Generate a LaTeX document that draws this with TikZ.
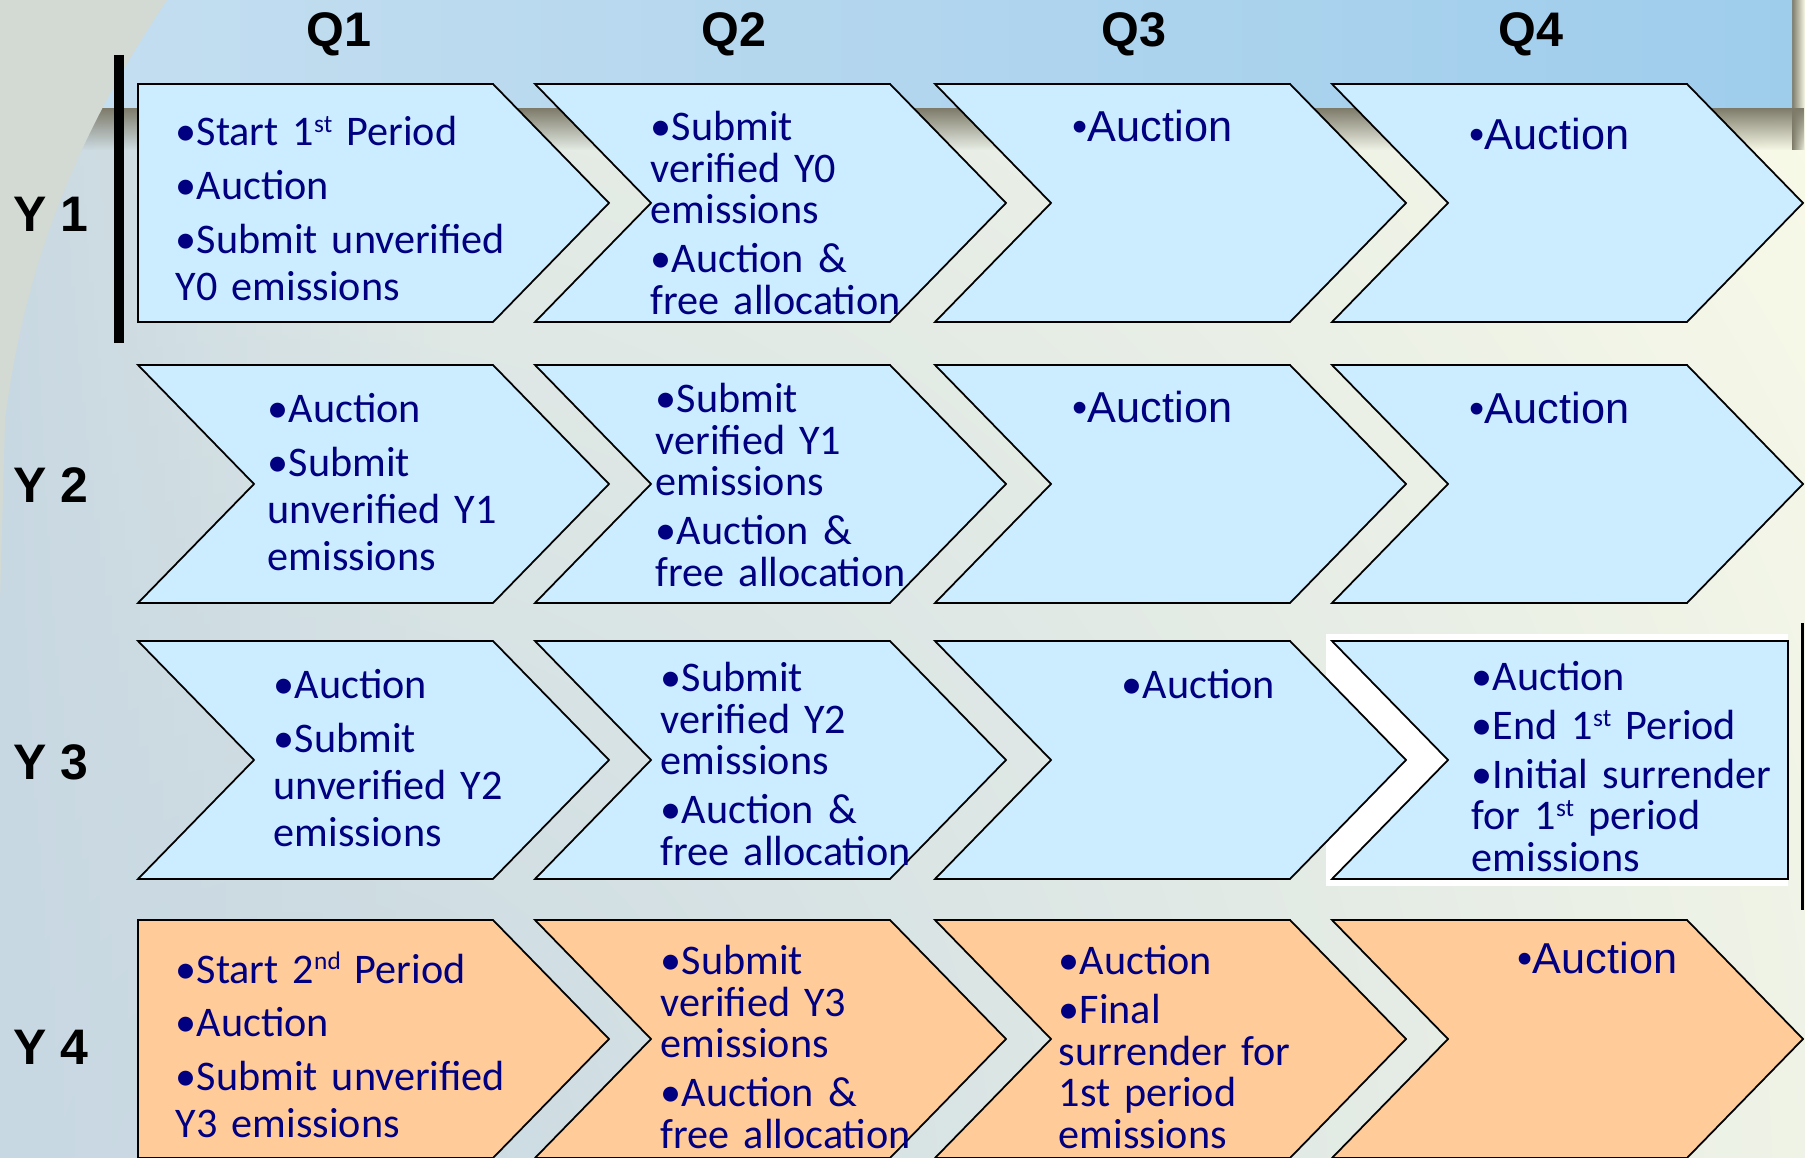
\documentclass[tikz,border=0pt]{standalone}
\usepackage{fontspec}
\setmainfont{Carlito}
\newfontfamily\arialfont{Liberation Sans}
\usepackage{tikz}
\usetikzlibrary{fadings}

\definecolor{boxblue}{RGB}{204,236,255}
\definecolor{boxorange}{RGB}{255,204,153}
\definecolor{navytext}{RGB}{0,0,128}
\definecolor{cream}{RGB}{252,252,232}
\definecolor{globe}{RGB}{200,216,226}
\definecolor{edgegray}{RGB}{210,218,211}
\definecolor{bandleft}{RGB}{196,222,240}
\definecolor{bandmid}{RGB}{222,238,249}
\definecolor{bandright}{RGB}{158,205,236}
\definecolor{bandshadow}{RGB}{125,122,105}

\newcommand{\sups}[1]{\raisebox{0.65ex}{\fontsize{7.2}{8}\selectfont #1}}

\tikzset{
    box/.style={draw=black, line width=0.5pt, line join=miter},
    itemsloose/.style={anchor=base west, inner sep=0pt, text width=3.4cm, align=left, text=navytext, font=\fontsize{12}{13.4}\selectfont},
    itemstight/.style={itemsloose, font=\fontsize{12}{11.8}\selectfont},
    itemsingle/.style={anchor=base west, inner sep=0pt, text=navytext, font=\fontsize{12}{13.4}\selectfont},
    arialitem/.style={anchor=base west, inner sep=0pt, text=navytext, font=\arialfont\fontsize{12.3}{15}\selectfont},
    quarter/.style={anchor=base, inner sep=0pt, font=\arialfont\bfseries\fontsize{13.8}{16}\selectfont},
    year/.style={anchor=base west, inner sep=0pt, font=\arialfont\bfseries\fontsize{14.2}{16}\selectfont}
}

\begin{document}
\begin{tikzpicture}[x=0.01cm, y=-0.01cm]
    \useasboundingbox (0,0) rectangle (1805,1158);
    \clip (0,0) rectangle (1805,1158);

    % Background of the slide
    \fill[cream] (0,0) rectangle (1805,1158);
    \shade[inner color=globe, outer color=cream] (300,1200) circle (2000);
    \fill[globe, path fading=east] (0,0) rectangle (450,1158);
    \fill[bandshadow, path fading=south] (60,108) rectangle (1805,150);
    \fill[bandshadow, path fading=east] (1792,0) rectangle (1805,150);
    \shade[left color=bandleft, middle color=bandmid, right color=bandright] (167,0) -- (1792,0) -- (1792,108) -- (90,108) -- cycle;
    \fill[edgegray] (0,0) -- (167,0) .. controls (80,130) and (25,260) .. (5,420) -- (0,600) -- cycle;
    \fill[white] (1326,634) rectangle (1788,886);
    \draw[line width=3pt] (119,55) -- (119,343);
    \draw[line width=0.7pt] (1802.5,623) -- (1802.5,910);

    % Chevrons Q2 and Q3
    \foreach \t/\c in {84/boxblue, 365/boxblue, 641/boxblue, 920/boxorange} {
        \foreach \l in {535, 935} {
            \draw[box, fill=\c] (\l,\t) -- ++(355,0) -- ++(116,119) -- ++(-116,119) -- ++(-355,0) -- ++(116,-119) -- cycle;
        }
    }
    % Chevrons Q4
    \foreach \t/\c in {84/boxblue, 365/boxblue, 920/boxorange} {
        \draw[box, fill=\c] (1332,\t) -- ++(355,0) -- ++(116,119) -- ++(-116,119) -- ++(-355,0) -- ++(116,-119) -- cycle;
    }
    \draw[box, fill=boxblue] (1332,641) -- (1788,641) -- (1788,879) -- (1332,879) -- ++(116,-119) -- cycle;
    % Q1: flat start in Y 1 and Y 4
    \foreach \t/\c in {84/boxblue, 920/boxorange} {
        \draw[box, fill=\c] (138,\t) -- ++(355,0) -- ++(116,119) -- ++(-116,119) -- ++(-355,0) -- cycle;
    }
    \foreach \t in {365, 641} {
        \draw[box, fill=boxblue] (138,\t) -- ++(355,0) -- ++(116,119) -- ++(-116,119) -- ++(-355,0) -- ++(116,-119) -- cycle;
    }

    % Quarters and years
    \foreach \i/\x in {1/339, 2/734, 3/1134, 4/1531} {
        \node[quarter] (q\i) at (\x,47) {Q\i};
    }
    \foreach \i/\y in {1/232, 2/503, 3/780, 4/1064} {
        \node[year] (y\i) at (13,\y) {Y \i};
    }

    % Y 1
    \node[itemsloose] (r1q1) at (175,146) {•Start 1\sups{st} Period\\[1.85pt]•Auction\\[1.85pt]•Submit unverified\\Y0 emissions};
    \node[itemstight] (r1q2) at (650,141) {•Submit\\verified Y0\\emissions\\[2pt]•Auction \&\\free allocation};
    \node[arialitem] (r1q3) at (1072,142) {•Auction};
    \node[arialitem] (r1q4) at (1469,150) {•Auction};

    % Y 2
    \node[itemsloose] (r2q1) at (267,423) {•Auction\\[1.85pt]•Submit\\unverified Y1\\emissions};
    \node[itemstight] (r2q2) at (655,413) {•Submit\\verified Y1\\emissions\\[2pt]•Auction \&\\free allocation};
    \node[arialitem] (r2q3) at (1072,423) {•Auction};
    \node[arialitem] (r2q4) at (1469,424) {•Auction};

    % Y 3
    \node[itemsloose] (r3q1) at (273,699) {•Auction\\[1.85pt]•Submit\\unverified Y2\\emissions};
    \node[itemstight] (r3q2) at (660,692) {•Submit\\verified Y2\\emissions\\[2pt]•Auction \&\\free allocation};
    \node[itemsingle] (r3q3) at (1121,699) {•Auction};
    \node[itemstight] (r3q4) at (1471,691) {•Auction\\[2pt]•End 1\sups{st} Period\\[2pt]•Initial surrender\\for 1\sups{st} period\\emissions};

    % Y 4
    \node[itemsloose] (r4q1) at (175,983) {•Start 2\sups{nd} Period\\[1.85pt]•Auction\\[1.85pt]•Submit unverified\\Y3 emissions};
    \node[itemstight] (r4q2) at (660,975) {•Submit\\verified Y3\\emissions\\[2pt]•Auction \&\\free allocation};
    \node[itemstight] (r4q3) at (1058,975) {•Auction\\[2pt]•Final\\surrender for\\1st period\\emissions};
    \node[arialitem] (r4q4) at (1517,974) {•Auction};
\end{tikzpicture}
\end{document}
